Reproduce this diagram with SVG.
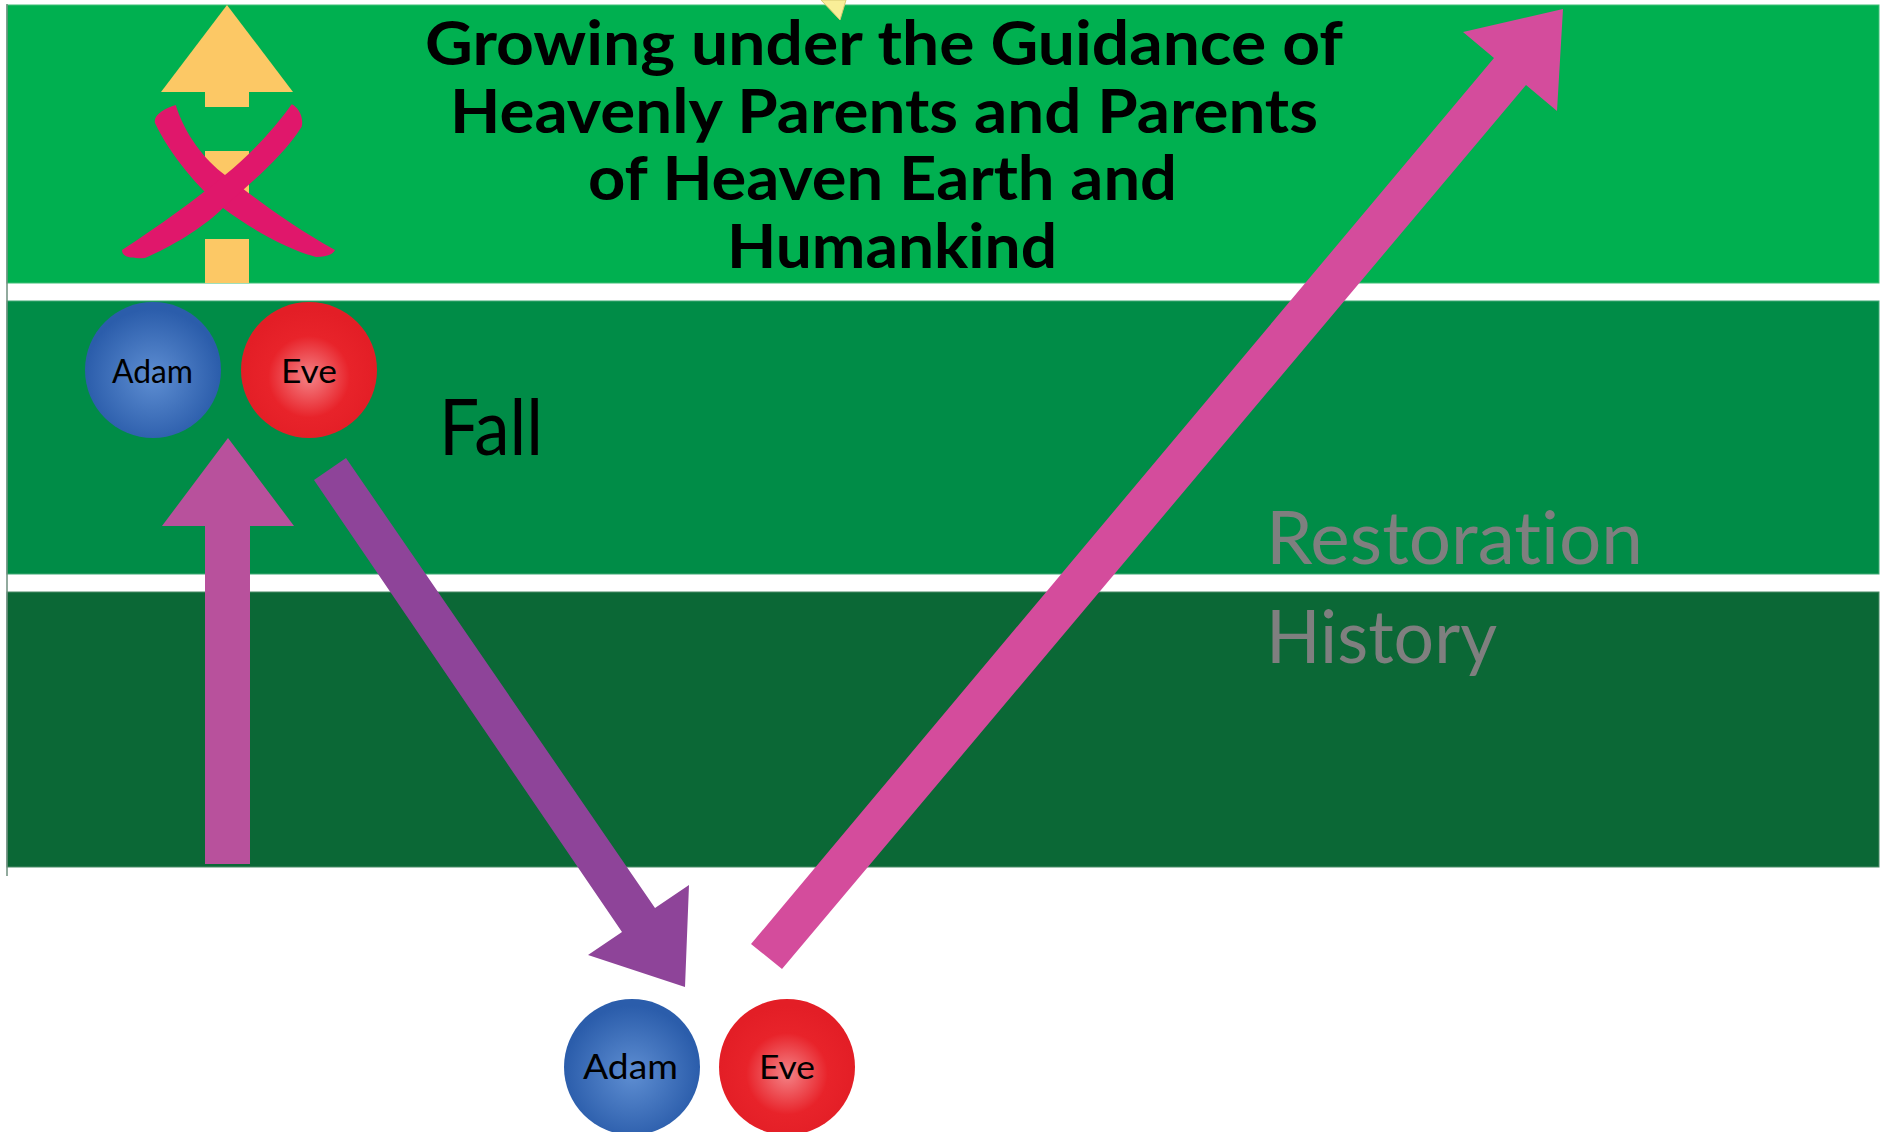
<svg xmlns="http://www.w3.org/2000/svg" width="1887" height="1132" viewBox="0 0 1887 1132">
<defs>
<radialGradient id="gAdam" cx="0.5" cy="0.55" r="0.5">
<stop offset="0" stop-color="#5E8ED2"/>
<stop offset="1" stop-color="#2B5DAB"/>
</radialGradient>
<radialGradient id="gEve" cx="0.5" cy="0.55" r="0.5">
<stop offset="0" stop-color="#F48387"/>
<stop offset="0.6" stop-color="#E8232A"/>
<stop offset="1" stop-color="#E31E26"/>
</radialGradient>
<style>
text{font-variant-ligatures:none}
.title{font-family:Lato,"Liberation Sans",sans-serif;font-weight:700;font-size:61px;fill:#000}
.lbl{font-family:Lato,"Liberation Sans",sans-serif;fill:#000}
.gray{font-family:Lato,"Liberation Sans",sans-serif;font-size:73px;fill:#7F7F7F}
.xs{fill:#E0176B}
</style>
</defs>
<rect width="1887" height="1132" fill="#fff"/>
<g id="bands">
<rect x="7" y="5" width="1872" height="278" fill="#00B050" stroke="#3FBF76" stroke-width="1"/>
<rect x="7" y="301" width="1872" height="273" fill="#008C47" stroke="#3FA874" stroke-width="1"/>
<rect x="7" y="592" width="1872" height="275" fill="#0B6836" stroke="#4A8A66" stroke-width="1"/>
<line x1="7" y1="4" x2="7" y2="876" stroke="#6E8E7E" stroke-width="1.5"/>
</g>
<polygon points="821,0 846,0 840,20" fill="#F9EE98" stroke="#D8C870" stroke-width="1"/>
<g id="blocked-growth">
<polygon points="161,92 227,5 293,92" fill="#FCC865"/>
<rect x="205" y="92" width="44" height="15" fill="#FCC865"/>
<rect x="205" y="151" width="44" height="44" fill="#FCC865"/>
<rect x="205" y="239" width="44" height="44" fill="#FCC865"/>
<path class="xs" d="M175.7,105 C185,135 205,160 225,175 C255,198 290,225 335,250 C333,255 325,257 316,257 C290,250 255,232 223,208 C200,190 170,155 155,123 C153,115 165,108 175.7,105 Z"/>
<path class="xs" d="M291.7,104.3 C275,128 250,155 225,175 C195,200 160,225 122,250 C122,256 128,259 145,258 C175,245 205,226 223,208 C250,183 280,160 301.7,126.7 C304,117 298,107 291.7,104.3 Z"/>
</g>
<g id="title">
<text class="title" x="425" y="65" textLength="918" lengthAdjust="spacingAndGlyphs">Growing under the Guidance of</text>
<text class="title" x="450" y="133" textLength="868" lengthAdjust="spacingAndGlyphs">Heavenly Parents and Parents</text>
<text class="title" x="588" y="200" textLength="589" lengthAdjust="spacingAndGlyphs">of Heaven Earth and</text>
<text class="title" x="727" y="268" textLength="330" lengthAdjust="spacingAndGlyphs">Humankind</text>
</g>
<g id="connectors">
<polygon id="growth-arrow" points="205,864 205,526 162,526 228,438 294,526 250,526 250,864" fill="#B8519C"/>
<polygon id="fall-arrow" points="314,480 622,932 588,955 685,987 689,885 655,908 346,458" fill="#8E4499"/>
<polygon id="restoration-arrow" points="751,944 1494,58 1463,32 1563,9 1557,111 1526,85 782,969" fill="#D44C9C"/>
</g>
<g id="adam-top">
<circle cx="153" cy="370" r="68" fill="url(#gAdam)"/>
<text class="lbl" x="112" y="383" font-size="32" textLength="81" lengthAdjust="spacingAndGlyphs">Adam</text>
</g>
<g id="eve-top">
<circle cx="309" cy="370" r="68" fill="url(#gEve)"/>
<text class="lbl" x="281" y="383" font-size="32" textLength="56" lengthAdjust="spacingAndGlyphs">Eve</text>
</g>
<g id="fall-label">
<text class="lbl" x="439" y="455" font-size="77" textLength="104" lengthAdjust="spacingAndGlyphs">Fall</text>
</g>
<g id="restoration-label">
<text class="gray" x="1266" y="564" textLength="377" lengthAdjust="spacingAndGlyphs">Restoration</text>
<text class="gray" x="1266" y="663" textLength="231" lengthAdjust="spacingAndGlyphs">History</text>
</g>
<g id="adam-bottom">
<circle cx="632" cy="1067" r="68" fill="url(#gAdam)"/>
<text class="lbl" x="583" y="1079" font-size="35" textLength="95" lengthAdjust="spacingAndGlyphs">Adam</text>
</g>
<g id="eve-bottom">
<circle cx="787" cy="1067" r="68" fill="url(#gEve)"/>
<text class="lbl" x="759" y="1079" font-size="33" textLength="56" lengthAdjust="spacingAndGlyphs">Eve</text>
</g>
</svg>
